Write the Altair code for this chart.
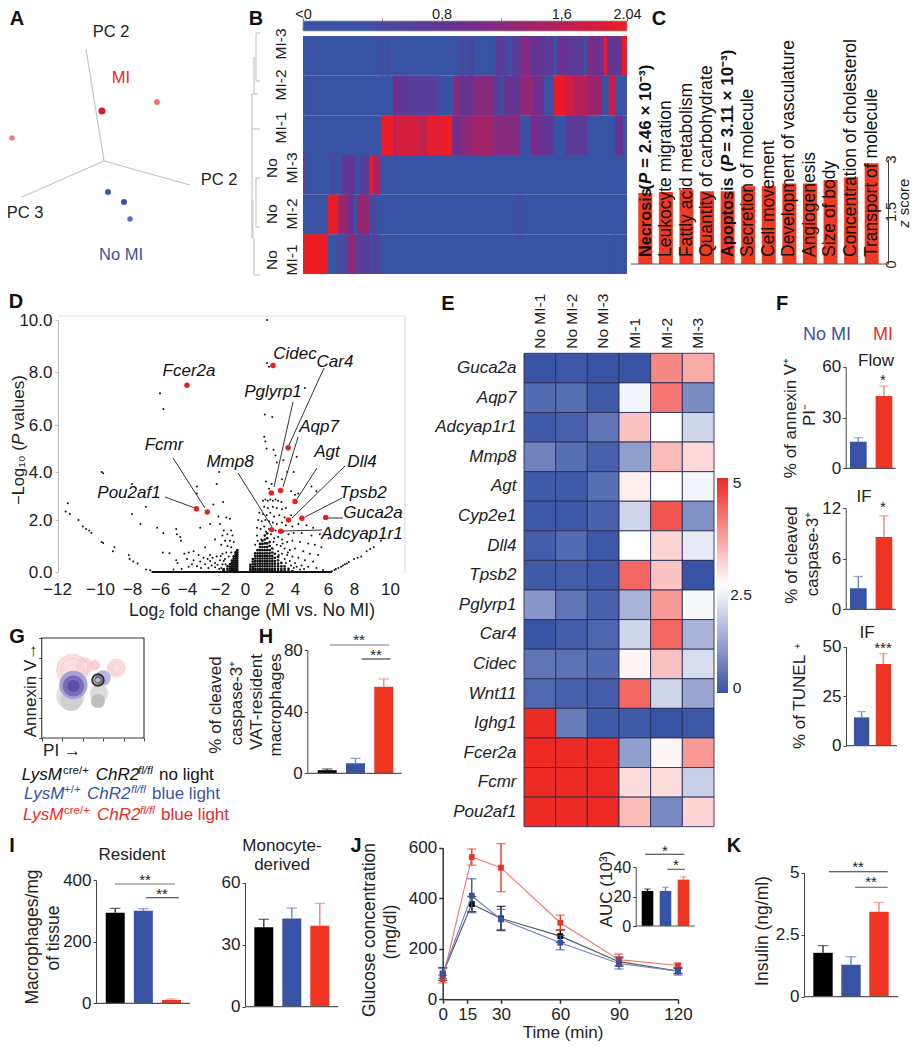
import altair as alt

W, H = 903, 1034
FONT = "Liberation Sans"
BLUE, RED, BLACK = "#3953a4", "#ee3524", "#000000"
LBLUE, LRED, LBLACK = "#6f84c6", "#f0837a", "#333333"
INK = "#222222"
layers = []
one = [{"a": 1}]

# ---------- helpers ----------
def text(s, x, y, size=17, color=INK, angle=0, align="center", style="normal", weight="normal"):
    layers.append(alt.Chart(alt.Data(values=one)).mark_text(
        text=s, font=FONT, fontSize=size, color=color, angle=angle, align=align, baseline="middle",
        fontStyle=style, fontWeight=weight).encode(x=alt.value(x - 8), y=alt.value(y - 8)))

def seg(x1, y1, x2, y2, color="#444444", w=1.0):
    layers.append(alt.Chart(alt.Data(values=one)).mark_rule(color=color, strokeWidth=w).encode(
        x=alt.value(x1 - 8), y=alt.value(y1 - 8), x2=alt.value(x2 - 8), y2=alt.value(y2 - 8)))

def yaxis(ax, vals, size=17, fmt=None, color="#444444", pad=2, tick=3, w=1.0):
    kw = dict(format=fmt) if fmt else {}
    return alt.Axis(orient="left", offset=-(ax - 8), values=vals, title=None, grid=False, labelFontSize=size,
                    labelFont=FONT, labelColor=INK, tickSize=tick, tickColor=color, domainColor=color,
                    labelPadding=pad, labelOverlap=False, labelFlush=False, labelBound=False,
                    domainWidth=w, tickWidth=w, **kw)

def xaxis(yb, vals, size=17, fmt=None, color="#444444", pad=2, tick=3, w=1.0, ticks=True, domain=True):
    kw = dict(format=fmt) if fmt else {}
    return alt.Axis(orient="bottom", offset=-(H - (yb - 8)), values=vals, title=None, grid=False, labelFontSize=size,
                    labelFont=FONT, labelColor=INK, tickSize=tick, tickColor=color, domainColor=color,
                    labelPadding=pad, labelOverlap=False, labelFlush=False, labelBound=False, labelAngle=0,
                    domainWidth=w, tickWidth=w, ticks=ticks, domain=domain, **kw)

def bars(ax, y0, ytop, ymax, ticks, first, last, bw, step, vals, tops, cols, ecols, xend, size=17, cap=None, tickfmt=None):
    n = len(vals)
    names = [f"g{i}" for i in range(n)]
    rows = [dict(g=names[i], v=vals[i], e=tops[i], c=cols[i], ec=ecols[i]) for i in range(n)]
    sx = alt.Scale(domain=names, range=[first - 8, last - 8], paddingInner=(step - bw) / step, paddingOuter=0)
    sy = alt.Scale(domain=[0, ymax], range=[y0 - 8, ytop - 8], nice=False)
    d = alt.Data(values=rows)
    X = alt.X("g:N", scale=sx, axis=None, sort=names)
    layers.append(alt.Chart(d).mark_rule(strokeWidth=1.4).encode(
        x=X, y=alt.Y("v:Q", scale=sy, axis=None), y2="e:Q", color=alt.Color("ec:N", scale=None)))
    layers.append(alt.Chart(d).mark_tick(orient="horizontal", size=cap or bw * 0.55, thickness=1.3).encode(
        x=X, y=alt.Y("e:Q", scale=sy, axis=None), color=alt.Color("ec:N", scale=None)))
    layers.append(alt.Chart(d).mark_bar(size=bw).encode(
        x=X, y=alt.Y("v:Q", scale=sy, axis=yaxis(ax, ticks, size=size, fmt=tickfmt)),
        color=alt.Color("c:N", scale=None)))
    seg(ax, y0, xend, y0, "#555555", 1.2)

TRIO, TRIO_ERR = [BLACK, BLUE, RED], [LBLACK, LBLUE, LRED]
PAIR, PAIR_ERR = [BLUE, RED], [LBLUE, LRED]

# ---------- panel letters ----------
for s, x, y in [("A", 17, 19), ("B", 256, 19), ("C", 659, 19), ("D", 16, 302), ("E", 448, 304), ("F", 782, 304),
                ("G", 17, 637), ("H", 266, 637), ("I", 12, 846), ("J", 356, 846), ("K", 734, 846)]:
    text(s, x, y, size=20, color="#111111", weight="bold")

# ---------- A: PCA ----------
PCA_X = [102, 157, 12, 108, 124, 130]
PCA_Y = [111, 102, 138, 192, 202, 219]
PCA_C = ["#cc1f26", "#ee6f73", "#ee7f84", "#3f5cae", "#3553a6", "#5570bd"]
PCA_S = [50, 34, 30, 36, 36, 30]
for p, q in [((104, 161), (86, 49)), ((104, 161), (190, 185)), ((104, 161), (22, 197))]:
    seg(p[0], p[1], q[0], q[1], "#c4c4c4", 1.2)
layers.append(alt.Chart(alt.Data(values=[dict(x=a, y=b, c=c, s=s) for a, b, c, s in zip(PCA_X, PCA_Y, PCA_C, PCA_S)])).mark_circle(opacity=1).encode(
    x=alt.X("x:Q", scale=alt.Scale(domain=[0, 300], range=[-8, 292]), axis=None),
    y=alt.Y("y:Q", scale=alt.Scale(domain=[0, 300], range=[-8, 292]), axis=None),
    color=alt.Color("c:N", scale=None), size=alt.Size("s:Q", scale=None)))
text("PC 2", 111, 32, 16.5); text("MI", 121, 78, 16.5, "#e8282a"); text("PC 2", 219, 180, 16.5)
text("PC 3", 25, 213, 16.5); text("No MI", 121, 255, 16.5, BLUE)

# ---------- B: expression heat map ----------
HB_ROWS = ["MI-3", "MI-2", "MI-1", "No MI-3", "No MI-2", "No MI-1"]
HB_MI3 = [(420, 428, .15), (440, 450, .25), (660, 672, .35), (685, 700, .4), (765, 790, .6), (790, 805, .4), (815, 840, .5), (840, 870, 1.1),
          (870, 905, .8), (905, 940, .6), (950, 985, .9), (985, 1030, .6), (1040, 1062, 1.1), (1062, 1090, .9), (1090, 1100, 1.9), (1100, 1145, .75), (1145, 1160, 2.0)]
HB_MI2 = [(200, 208, .2), (458, 470, 1.0), (470, 500, .7), (500, 590, .5), (590, 600, .3), (640, 660, 1.15), (660, 700, .8), (700, 760, 1.1), (760, 780, .5),
          (790, 840, .75), (840, 880, 1.2), (880, 910, .95), (940, 975, 2.0), (975, 1000, 1.75), (1000, 1040, 1.5), (1040, 1085, 1.3), (1105, 1125, 1.7)]
HB_MI1 = [(422, 460, 2.0), (460, 470, 1.6), (470, 540, 1.8), (540, 560, 1.65), (560, 600, 1.95), (600, 636, 2.04), (636, 660, .95), (660, 690, 1.15), (690, 760, 1.35),
          (760, 840, 1.1), (870, 905, .95), (905, 940, .7), (975, 1040, .6), (1125, 1148, .8)]
HB_N3 = [(188, 192, 1.5), (272, 285, .4), (305, 345, .7), (360, 385, .6), (388, 398, 2.0), (400, 420, 1.4)]
HB_N2 = [(263, 295, 2.0), (295, 320, 1.3), (320, 340, .85), (350, 388, 1.25), (392, 408, .3), (825, 850, .12)]
HB_N1 = [(188, 262, 2.04), (292, 320, .2), (322, 348, 1.2), (350, 390, .55), (395, 420, .35), (1120, 1130, .08)]
hb = []
for rn, segs in zip(HB_ROWS, [HB_MI3, HB_MI2, HB_MI1, HB_N3, HB_N2, HB_N1]):
    hb.append(dict(r=rn, a=188, b=1160, v=0))
    hb += [dict(r=rn, a=a, b=b, v=v) for a, b, v in segs]
HB_COLORS = ["#3953a4", "#6d2f90", "#b41f5c", "#ed1c24"]
layers.append(alt.Chart(alt.Data(values=hb)).mark_rect(stroke=None).encode(
    x=alt.X("a:Q", scale=alt.Scale(domain=[188, 1160], range=[303 - 8, 627 - 8], nice=False, zero=False), axis=None), x2="b:Q",
    y=alt.Y("r:N", scale=alt.Scale(domain=HB_ROWS, range=[36 - 8, 274 - 8], paddingInner=0, paddingOuter=0), axis=None, sort=HB_ROWS),
    color=alt.Color("v:Q", scale=alt.Scale(domain=[0, .9, 1.5, 2.04], range=HB_COLORS, interpolate="rgb"), legend=None)))
# colour bar
layers.append(alt.Chart(alt.Data(values=one)).mark_rect(
    color={"gradient": "linear", "x1": 0, "x2": 1, "y1": 0, "y2": 0,
           "stops": [{"offset": 0, "color": HB_COLORS[0]}, {"offset": .15, "color": HB_COLORS[0]}, {"offset": .5, "color": HB_COLORS[1]}, {"offset": .78, "color": HB_COLORS[2]}, {"offset": 1, "color": HB_COLORS[3]}]},
    stroke="#999999", strokeWidth=.8).encode(x=alt.value(295), x2=alt.value(619), y=alt.value(13), y2=alt.value(23)))
CB_TICKS = [-0.127, 0.4, 0.8, 1.2, 1.6, 2.04]
layers.append(alt.Chart(alt.Data(values=[dict(v=t) for t in CB_TICKS])).mark_point(opacity=0).encode(
    x=alt.X("v:Q", scale=alt.Scale(domain=[-0.127, 2.04], range=[295, 619], nice=False, zero=False),
            axis=alt.Axis(orient="top", offset=-13, values=CB_TICKS, title=None, grid=False, domain=False, tickSize=3, tickColor="#777777",
                          labelFont=FONT, labelFontSize=14.5, labelColor=INK, labelPadding=-3, labelOverlap=False, labelFlush=False, labelBound=False,
                          labelAngle=0, labelExpr="datum.value<0?'<0':datum.value==0.8?'0.8':datum.value==1.6?'1.6':datum.value>2?'2.04':''"))))
for s, x, y in [("MI-3", 281, 44), ("MI-2", 281, 85), ("MI-1", 281, 128), ("No", 272, 168), ("MI-3", 292, 168), ("No", 272, 214), ("MI-2", 292, 214), ("No", 272, 260), ("MI-1", 292, 260)]:
    text(s, x, y, 15.5, angle=270)
DENDRO = [((256, 33), (260, 33)), ((256, 33), (256, 81)), ((256, 81), (260, 81)), ((254, 57), (254, 94)), ((252, 94), (252, 165)), ((252, 94), (258, 94)),
          ((252, 129), (260, 129)), ((256, 178), (256, 227)), ((256, 178), (260, 178)), ((256, 227), (260, 227)), ((253, 200), (253, 238)), ((254, 238), (254, 275)),
          ((254, 275), (260, 275)), ((252, 165), (252, 238))]
for p, q in DENDRO:
    seg(p[0], p[1], q[0], q[1], "#c6c6c6", 1.2)

# ---------- C: z score bars ----------
C_TERMS = ["Necrosis", "Leukocyte migration", "Fattly acid metabolism", "Quantity of carbohydrate", "Apoptosis", "Secretion of molecule",
           "Cell movement", "Development of vasculature", "Angiogenesis", "Size of body", "Concentration of cholesterol", "Transport of molecule"]
C_Z = [2.03, 2.06, 2.12, 2.08, 2.08, 2.22, 2.22, 2.3, 2.3, 2.4, 2.48, 2.88]
csx = alt.Scale(domain=C_TERMS, range=[638.3 - 8, 878.7 - 8], paddingInner=.32, paddingOuter=0)
csy = alt.Scale(domain=[0, 3], range=[264 - 8, 159 - 8], nice=False)
layers.append(alt.Chart(alt.Data(values=[dict(t=a, z=b) for a, b in zip(C_TERMS, C_Z)])).mark_bar(color="#ef3b24").encode(
    x=alt.X("t:N", scale=csx, axis=None, sort=C_TERMS),
    y=alt.Y("z:Q", scale=csy, axis=alt.Axis(orient="right", offset=-(W - (888 - 8)), values=[0, 1.5, 3], format=".1~f", title=None, grid=False, labelAngle=270, labelAlign="center",
                                             labelBaseline="middle", labelFont=FONT, labelFontSize=14.5, labelColor=INK, labelPadding=3, tickSize=0, domainColor="#444444",
                                             labelOverlap=False, labelBound=False, labelFlush=False))))
seg(631, 264, 888, 264, "#555555", 1.2)
for i, t in enumerate(C_TERMS):
    cx = 645.5 + i * 20.55
    bold = t in ("Necrosis", "Apoptosis")
    text(t, cx, 257, 16.3 if bold else 17.5, "#111111", angle=270, align="left", weight="bold" if bold else "normal")
text("(", 645.5, 190, 17, "#111111", angle=270, align="left", weight="bold")
text("P", 645.5, 184, 17, "#111111", angle=270, align="left", weight="bold", style="italic")
text("= 2.46 × 10⁻³)", 645.5, 168, 17, "#111111", angle=270, align="left", weight="bold")
text("(", 728, 172, 17, "#111111", angle=270, align="left", weight="bold")
text("P", 728, 166, 17, "#111111", angle=270, align="left", weight="bold", style="italic")
text("= 3.11 × 10⁻³)", 728, 152, 17, "#111111", angle=270, align="left", weight="bold")
text("z", 904, 224, 15, angle=270, style="italic"); text("score", 904, 197, 15, angle=270)

# ---------- D: volcano ----------
VX_T = [-12, -10, -8, -6, -4, -2, 0, 2, 4, 6, 8, 10]
VX_P = [57, 100, 132, 160, 187, 220, 245, 269, 295, 328, 354, 390]
VY_T = [0, 2, 4, 6, 8, 10]
VY_P = [572, 520, 472, 425, 372, 320]
vsx = alt.Scale(domain=VX_T, range=[p - 8 for p in VX_P], nice=False, zero=False)
vsy = alt.Scale(domain=VY_T, range=[p - 8 for p in VY_P], nice=False, zero=False)
VOLC_UPPER = [(1.84, 10), (1.84, 8.35), (2.0, 8.2), (4.6, 7.4), (-6, 7.2), (-5.75, 6.6), (1.65, 6.4), (2.25, 6.3), (1.6, 5.5), (1.7, 5.3), (1.8, 5), (2.35, 4.95),
              (2.5, 4.7), (4.1, 4.65), (2.6, 4.4), (3.9, 4), (-9.9, 4), (-9.8, 3.95), (-2.05, 4), (-8, 3.5), (-2.2, 3.5), (-3.4, 3.4), (-3.4, 3.1), (1.75, 3.6),
              (2.0, 3.3), (2.2, 3.5), (3.0, 3.7), (3.4, 4.0), (3.1, 4.5), (5.0, 3.4), (5.3, 3.2), (4.2, 3.1), (4.0, 3.05), (3.7, 3.2)]
VOLC_LEFT_ARM = [(-11.5, 2.7), (-11.6, 2.35), (-11.4, 2.25), (-11.0, 2.0), (-10.8, 1.75), (-10.65, 1.65), (-10.5, 1.6), (-10.4, 1.5), (-9.9, 1.15), (-9.8, 1.12),
                 (-9.1, .95), (-9.2, .8), (-8.2, .65), (-8.15, .5), (-7.9, .4), (-7.6, .33), (-7, .1), (-6.7, .07)]
VOLC_RIGHT_ARM = [(6.3, .03), (6.5, .08), (6.6, .12), (6.8, .15), (7.0, .2), (7.15, .25), (7.3, .3), (7.45, .33), (7.6, .38), (8, .5), (8.2, .55), (8.4, .6), (8.7, .8), (8.9, .88), (9.1, .95), (9.5, 1.2)]
VOLC_LEFT_MID = [(-8, 2.25), (-7, 2.55), (-7.4, 1.85), (-6.2, 1.7), (-5.75, 1.5), (-4.8, 1.65), (-4.75, 1.45), (-4.5, 1.35), (-4.45, 1.2), (-1.75, 2.75), (-2.4, 2.65),
                 (-2.1, 2.15), (-1.5, 2.1), (-1.2, 2.05), (-2.6, 1.85), (-2.0, 1.85), (-1.7, 1.6), (-1.1, 1.6), (-3.2, 1.7), (-1.8, 1.4), (-1.4, 1.45), (-1.0, 1.4), (-2.3, 1.25),
                 (-1.6, 1.2), (-1.2, 1.2), (-0.9, 1.15), (-1.9, 1.05), (-1.4, 1.0), (-1.1, .95), (-2.9, .95), (-3.6, .8), (-3.9, .75), (-5.8, .75), (-5.3, .72), (-4.2, .7),
                 (-3.3, .65), (-2.6, .65), (-2.2, .6), (-1.8, .7), (-1.5, .75), (-4.8, .45), (-4.7, .35), (-4.0, .5), (-3.6, .45), (-3.2, .4), (-2.9, .3), (-2.6, .42), (-2.3, .35),
                 (-2.0, .45), (-1.8, .3), (-3.9, .2), (-3.4, .22), (-2.7, .15), (-2.3, .18), (-1.9, .15), (-4.4, .12), (-5.0, .1), (-1.6, .5), (-1.3, .6), (-1.1, .75),
                 (-3.0, .55), (-2.75, .5), (-2.45, .55), (-2.15, .28), (-1.95, .62), (-1.7, .42), (-1.55, .3), (-3.7, .3), (-3.15, .15), (-2.5, .25), (-2.05, .12), (-1.75, .1)]
VOLC_RIGHT_MID = [(1.5, 2.8), (1.7, 2.85), (1.9, 2.8), (2.1, 2.85), (2.3, 2.8), (2.5, 2.85), (2.7, 2.8), (2.95, 2.75), (1.6, 2.55), (1.9, 2.5), (2.3, 2.55), (2.6, 2.5), (3.0, 2.45),
                  (3.3, 2.5), (1.2, 2.3), (1.5, 2.25), (1.8, 2.2), (2.1, 2.3), (2.4, 2.15), (2.8, 2.2), (3.2, 2.1), (3.7, 2.2), (1.1, 2.0), (1.4, 1.95), (1.7, 2.0), (2.0, 1.95),
                  (2.3, 1.9), (2.6, 1.85), (3.0, 1.9), (3.3, 1.8), (3.8, 1.75), (4.2, 1.85), (4.7, 1.8), (5.1, 1.7), (1.0, 1.7), (1.3, 1.65), (1.6, 1.75), (2.0, 1.65), (2.5, 1.6),
                  (3.1, 1.55), (3.5, 1.45), (3.9, 1.5), (4.4, 1.5), (5.0, 1.4), (5.5, 1.45), (6.05, 1.3), (1.0, 1.4), (2.4, 1.3), (2.7, 1.35), (3.0, 1.25), (3.4, 1.15), (3.8, 1.2),
                  (4.3, 1.15), (4.8, 1.1), (5.2, 1.05), (5.6, .95), (2.6, 1.05), (2.9, 1.0), (3.2, .9), (3.6, .85), (4.0, .9), (4.5, .8), (4.9, .7), (5.4, .65), (2.7, .8), (3.0, .7),
                  (3.4, .65), (3.8, .6), (4.2, .55), (4.6, .45), (5.1, .4), (3.2, .5), (3.6, .42), (4.0, .35), (4.4, .25), (4.8, .2), (5.3, .15), (3.9, .15), (4.3, .1), (5.7, .08),
                  (1.35, 1.25), (1.75, 1.55), (2.15, 1.45), (2.35, 1.15), (0.85, 1.05), (1.05, 1.2), (3.3, .35), (3.7, .25), (4.1, .2), (4.55, .12), (3.45, .75), (3.05, 1.1), (2.75, .65)]
VOLC_CORE = {0.45: [.04, .12, .2, .28], 0.65: [.04, .12, .2, .3, .4, .5], 0.85: [.04, .12, .22, .32, .42, .52, .62, .72], 1.05: [.04, .12, .22, .32, .42, .52, .62, .72, .84],
             1.25: [.04, .12, .22, .32, .42, .52, .62, .72, .84, .96, 1.08], 1.45: [.04, .12, .22, .32, .42, .52, .62, .72, .84, .96, 1.08, 1.2],
             1.65: [.04, .12, .22, .32, .42, .52, .62, .72, .84, .96, 1.1, 1.25, 1.4], 1.85: [.04, .12, .22, .32, .42, .52, .62, .72, .84, .96, 1.1, 1.3, 1.48],
             2.05: [.04, .12, .22, .32, .42, .52, .62, .72, .84, 1.0, 1.15], 2.25: [.04, .12, .22, .32, .42, .52, .62, .75, .9], 2.45: [.04, .12, .22, .32, .42, .55, .7],
             2.7: [.04, .12, .22, .32, .45, .58], 2.95: [.04, .12, .22, .35], 3.2: [.04, .12, .22], 3.5: [.04, .12], 3.8: [.04],
             -0.62: [.04, .12, .2, .28, .36, .44, .52, .6, .68, .76, .84], -0.75: [.04, .12, .2, .28, .36, .44, .52, .6, .68, .76], -0.9: [.04, .12, .2, .28, .36, .44, .52, .6],
             -1.05: [.04, .12, .2, .28, .36, .44], -1.2: [.04, .12, .2, .3], -1.4: [.04, .12, .22], -1.7: [.04, .1]}
VOLC_HITS = ["Cidec", "Fcer2a", "Car4", "Pglyrp1", "Aqp7", "Agt", "Dll4", "Tpsb2", "Guca2a", "Mmp8", "Adcyap1r1", "Pou2af1", "Fcmr"]
VOLC_HX = [2.31, -4.0, 3.47, 2.18, 2.9, 4.0, 3.5, 4.42, 5.86, 2.2, 2.9, -3.43, -2.77]
VOLC_HY = [8.25, 7.5, 5.03, 3.13, 3.23, 2.77, 2.0, 2.07, 2.1, 1.63, 1.57, 2.47, 2.33]
seg(58, 316, 405, 316, "#dddddd", 1.2); seg(405, 316, 405, 573, "#dddddd", 1.2)
dots = VOLC_UPPER + VOLC_LEFT_ARM + VOLC_RIGHT_ARM + VOLC_LEFT_MID + VOLC_RIGHT_MID
layers.append(alt.Chart(alt.Data(values=[dict(x=-6.6, y=0, x2=6.3)])).mark_rule(color="#111111", strokeWidth=2).encode(
    x=alt.X("x:Q", scale=vsx, axis=xaxis(573, VX_T, pad=8, ticks=False, domain=False, fmt="d")), x2="x2:Q",
    y=alt.Y("y:Q", scale=vsy, axis=yaxis(58, VY_T, fmt=".1f", color="#bbbbbb", pad=3))))
layers.append(alt.Chart(alt.Data(values=[dict(x=a, y=b) for a, b in dots])).mark_circle(size=4, color="#111111", opacity=1).encode(
    x=alt.X("x:Q", scale=vsx, axis=None), y=alt.Y("y:Q", scale=vsy, axis=None)))
layers.append(alt.Chart(alt.Data(values=[dict(x=a, y=b) for a, ys in VOLC_CORE.items() for b in ys])).mark_circle(size=7, color="#111111", opacity=1).encode(
    x=alt.X("x:Q", scale=vsx, axis=None), y=alt.Y("y:Q", scale=vsy, axis=None)))
LEADERS = [(324, 368, 289, 445), (293, 402, 274, 487), (298, 437, 283, 487), (317, 468, 297, 499), (345, 466, 292, 518), (342, 498, 305, 517),
           (343, 518, 328, 518), (322, 530, 283, 531), (238, 473, 272, 527), (173, 458, 205, 508), (165, 497, 195, 508)]
for a, b, c, d in LEADERS:
    seg(a, b, c, d, "#333333", 1)
layers.append(alt.Chart(alt.Data(values=[dict(x=a, y=b) for a, b in zip(VOLC_HX, VOLC_HY)])).mark_circle(size=30, color="#e8201c", opacity=1).encode(
    x=alt.X("x:Q", scale=vsx, axis=None), y=alt.Y("y:Q", scale=vsy, axis=None)))
for s, x, y in [("Cidec", 295, 354), ("Car4", 335, 362), ("Fcer2a", 189, 371), ("Pglyrp1", 273, 392), ("Aqp7", 319, 427), ("Agt", 327, 452), ("Dll4", 362, 462),
                ("Tpsb2", 363, 493), ("Guca2a", 373, 513), ("Adcyap1r1", 362, 534), ("Mmp8", 230, 462), ("Fcmr", 164, 445), ("Pou2af1", 129, 493)]:
    text(s, x, y, 17, "#111111", style="italic")
text("−Log₁₀ (", 19, 505, 16.5, angle=270, align="left")
text("P", 19, 445, 17, angle=270, align="left", style="italic")
text("values)", 19, 430, 17, angle=270, align="left")
text("Log₂ fold change (MI vs. No MI)", 252, 611, 17.5)

# ---------- E: gene heat map ----------
E_SAMPLES = ["No MI-1", "No MI-2", "No MI-3", "MI-1", "MI-2", "MI-3"]
E_GENES = ["Guca2a", "Aqp7", "Adcyap1r1", "Mmp8", "Agt", "Cyp2e1", "Dll4", "Tpsb2", "Pglyrp1", "Car4", "Cidec", "Wnt11", "Ighg1", "Fcer2a", "Fcmr", "Pou2af1"]
E_VALUES = [[0, .05, 0, 0, 3.9, 3.5], [.35, .4, .1, 2.35, 4.1, .85], [.1, .2, .5, 3.2, 2.5, 1.9], [.7, .4, .2, 1.1, 3.3, 2.95],
            [.1, .1, .4, 2.7, 2.5, 2.35], [.05, .05, .2, 1.9, 4.5, .9], [.15, .35, .05, 2.5, 3.0, 2.2], [.1, .15, .05, 4.3, 3.2, 0],
            [1, .5, .2, 1.4, 3.7, 2.4], [0, .15, .25, 1.9, 4.3, 1.4], [.5, .45, .35, 2.6, 3.2, 2.0], [.3, .2, .15, 4.3, 1.9, 1.2],
            [5, .6, .1, .1, 0, .05], [5, 5, 5, 1.1, 2.6, 3.7], [5, 5, 5, 2.9, 2.9, 1.8], [5, 5, 5, 3.3, .8, 3.0]]
E_COLORS = ["#3953a4", "#ffffff", "#ee2a24"]
ecells = [dict(g=g, s=s, v=E_VALUES[i][j]) for i, g in enumerate(E_GENES) for j, s in enumerate(E_SAMPLES)]
layers.append(alt.Chart(alt.Data(values=ecells)).mark_rect(stroke="#2a2f58", strokeWidth=.9).encode(
    x=alt.X("s:N", sort=E_SAMPLES, scale=alt.Scale(domain=E_SAMPLES, range=[524 - 8, 714 - 8], paddingInner=0, paddingOuter=0),
            axis=alt.Axis(orient="top", offset=-(353.3 - 8), title=None, ticks=False, domain=False, grid=False, labelAngle=270, labelAlign="left", labelBaseline="middle",
                          labelFont=FONT, labelFontSize=15.5, labelColor=INK, labelPadding=5, labelOverlap=False, labelBound=False, labelFlush=False)),
    y=alt.Y("g:N", sort=E_GENES, scale=alt.Scale(domain=E_GENES, range=[353.3 - 8, 826.7 - 8], paddingInner=0, paddingOuter=0),
            axis=alt.Axis(orient="left", offset=-(524 - 8), title=None, ticks=False, domain=False, grid=False, labelFont=FONT, labelFontSize=17, labelFontStyle="italic",
                          labelColor=INK, labelPadding=8, labelOverlap=False, labelBound=False, labelFlush=False)),
    color=alt.Color("v:Q", scale=alt.Scale(domain=[0, 2.5, 5], range=E_COLORS, interpolate="rgb"), legend=None)))
layers.append(alt.Chart(alt.Data(values=one)).mark_rect(
    color={"gradient": "linear", "x1": 0, "x2": 0, "y1": 1, "y2": 0,
           "stops": [{"offset": 0, "color": E_COLORS[0]}, {"offset": .5, "color": E_COLORS[1]}, {"offset": 1, "color": E_COLORS[2]}]}).encode(
    x=alt.value(709), x2=alt.value(720), y=alt.value(470), y2=alt.value(685)))
text("5", 737, 483, 15.5); text("2.5", 741, 595, 15.5); text("0", 737, 688, 15.5)

# ---------- F: three small bar panels ----------
F1_V, F1_E = [15.7, 42.7], [18, 48.6]
F2_V, F2_E = [2.5, 8.6], [3.9, 11.1]
F3_V, F3_E = [14.3, 41.2], [17.2, 46.5]
bars(845.7, 468.3, 366.7, 60, [0, 30, 60], 850, 892.3, 16.7, 25.7, F1_V, F1_E, PAIR, PAIR_ERR, 895.7)
bars(845.7, 609.3, 508.3, 12, [0, 6, 12], 850, 892.3, 16.7, 25.7, F2_V, F2_E, PAIR, PAIR_ERR, 895.7)
bars(846, 745.7, 646.7, 50, [0, 25, 50], 854, 891, 15.3, 22, F3_V, F3_E, PAIR, PAIR_ERR, 897)
text("No MI", 827, 335, 18, BLUE); text("MI", 883, 335, 18, "#ee2a24")
text("Flow", 876, 361, 17); text("*", 883, 380, 15); text("IF", 864, 497, 17); text("*", 883, 507, 15)
text("IF", 867, 633, 17); text("***", 883, 648, 15)
text("% of annexin V⁺", 791, 418, 17, angle=270); text("PI⁻", 810, 415, 17, angle=270)
text("% of cleaved", 792, 555, 17, angle=270); text("caspase-3⁺", 813, 554, 17, angle=270)
text("% of TUNEL", 800, 702, 17, angle=270); text("+", 798, 646, 10, angle=270)

# ---------- G: flow contour ----------
gsx = alt.Scale(domain=[0, 100], range=[41.7 - 8, 144 - 8], nice=False)
gsy = alt.Scale(domain=[0, 100], range=[738 - 8, 638 - 8], nice=False)
G_GRAY_X, G_GRAY_Y, G_GRAY_S = [28, 29, 56, 55], [42, 38, 45, 37], [800, 480, 340, 200]
G_PINK_X, G_PINK_Y, G_PINK_S = [30, 42, 73, 52], [68, 72, 70, 73], [1000, 260, 320, 90]
G_BLUE_X, G_BLUE_Y, G_BLUE_S = [31, 31, 31, 60], [53, 52, 52, 60], [800, 450, 150, 240]
G_BLUE_C = ["#a29dd6", "#7468b8", "#5a4ea8", "#b4b1de"]
G_DARK_X, G_DARK_Y, G_DARK_S = [55, 55], [58, 58], [130, 40]
def gfill(xs, ys, ss, cs, op):
    layers.append(alt.Chart(alt.Data(values=[dict(x=a, y=b, s=c, c=d) for a, b, c, d in zip(xs, ys, ss, cs)])).mark_circle(opacity=op).encode(
        x=alt.X("x:Q", scale=gsx, axis=None), y=alt.Y("y:Q", scale=gsy, axis=None),
        size=alt.Size("s:Q", scale=None), color=alt.Color("c:N", scale=None)))
def gring(xs, ys, ss, col, w, fr=1.0):
    layers.append(alt.Chart(alt.Data(values=[dict(x=a, y=b, s=c * fr) for a, b, c in zip(xs, ys, ss)])).mark_point(filled=False, color=col, strokeWidth=w, opacity=.9).encode(
        x=alt.X("x:Q", scale=gsx, axis=None), y=alt.Y("y:Q", scale=gsy, axis=None), size=alt.Size("s:Q", scale=None)))
gfill(G_PINK_X, G_PINK_Y, G_PINK_S, ["#fbdcdd"] * 4, .95)
gring(G_PINK_X, G_PINK_Y, G_PINK_S, "#f8c0c3", .7)
gring(G_PINK_X, G_PINK_Y, G_PINK_S, "#f8c0c3", .7, .55)
gring(G_PINK_X[1:], G_PINK_Y[1:], G_PINK_S[1:], "#f8c0c3", .7, .25)
gfill(G_GRAY_X, G_GRAY_Y, G_GRAY_S, ["#dedede", "#cfcfcf", "#d8d8d8", "#bdbdbd"], .95)
gfill(G_BLUE_X, G_BLUE_Y, G_BLUE_S, G_BLUE_C, .95)
gring(G_DARK_X[:1], G_DARK_Y[:1], G_DARK_S[:1], "#222222", 2.2)
gring(G_DARK_X[1:], G_DARK_Y[1:], G_DARK_S[1:], "#444444", 1.2)
layers.append(alt.Chart(alt.Data(values=[dict(x=0, y=0)])).mark_rect(fill=None, stroke="#333333", strokeWidth=1.1).encode(
    x=alt.value(41.7 - 8), x2=alt.value(144 - 8), y=alt.value(638 - 8), y2=alt.value(738 - 8)))
G_TICKS = [0, 20, 40, 60, 80, 100]
layers.append(alt.Chart(alt.Data(values=[dict(x=0, y=0)])).mark_point(opacity=0).encode(
    x=alt.X("x:Q", scale=gsx, axis=alt.Axis(orient="bottom", offset=-(H - 730), values=G_TICKS, labels=False, title=None, grid=False, tickSize=3, tickColor="#444444", domain=False)),
    y=alt.Y("y:Q", scale=gsy, axis=alt.Axis(orient="left", offset=-33.7, values=G_TICKS, labels=False, title=None, grid=False, tickSize=3, tickColor="#444444", domain=False))))
text("Annexin V→", 31, 690, 17, angle=270); text("PI →", 62, 751, 17)
for y, col, pieces in [
    (775, "#111111", [("LysM", 21.7, 17, "italic"), ("cre/+", 63, 11.5, "normal"), ("ChR2", 95.7, 17, "italic"), ("fl/fl", 138, 11.5, "italic"), ("no light", 159, 17, "normal")]),
    (794, BLUE, [("LysM", 24, 17, "italic"), ("+/+", 64, 11.5, "normal"), ("ChR2", 87, 17, "italic"), ("fl/fl", 131, 11.5, "italic"), ("blue light", 152, 17, "normal")]),
    (815, "#ee2a24", [("LysM", 23, 17, "italic"), ("cre/+", 64, 11.5, "normal"), ("ChR2", 97, 17, "italic"), ("fl/fl", 140, 11.5, "italic"), ("blue light", 161, 17, "normal")])]:
    for s, x, sz, st in pieces:
        text(s, x, y - (4 if sz < 12 else 0), sz, col, align="left", style=st)

# ---------- H ----------
H_V, H_E = [2, 6.5, 56.2], [2.8, 9.7, 61.2]
bars(307.3, 773.3, 650, 80, [0, 40, 80], 317.7, 393.3, 19, 28.2, H_V, H_E, TRIO, TRIO_ERR, 401.7)
seg(330, 645, 389, 645, "#777777", 1.1); seg(361.7, 659, 390.7, 659, "#333333", 1.1)
text("**", 359, 640, 15); text("**", 376, 655, 15)
text("% of  cleaved", 216, 705, 17, angle=270); text("caspase-3⁺", 237, 703, 17, angle=270)
text("VAT-resident", 257, 702, 17, angle=270); text("macrophages", 276, 705, 17, angle=270)

# ---------- I ----------
IR_V, IR_E = [294, 300.5, 11], [308, 307, 14]
IM_V, IM_E = [38.5, 42.7, 39.2], [42.3, 47.7, 50]
bars(96, 1003.3, 880, 400, [0, 200, 400], 105.7, 181, 19, 28, IR_V, IR_E, TRIO, TRIO_ERR, 190)
bars(245, 1006.7, 882.7, 60, [0, 30, 60], 254.3, 329.3, 19, 28, IM_V, IM_E, TRIO, TRIO_ERR, 338.3)
seg(115, 884, 175, 884, "#777777", 1.1); seg(145.7, 897.7, 179, 897.7, "#333333", 1.1)
text("**", 145, 880, 15); text("**", 162, 894, 15)
text("Resident", 132, 855, 17); text("Monocyte-", 282, 846, 17); text("derived", 282, 865, 17)
text("Macrophages/mg", 33, 937, 17.5, angle=270); text("of tissue", 54, 938, 17.5, angle=270)

# ---------- J ----------
J_T = [0, 17, 30, 60, 90, 120]
J_RED, J_RED_E = [80, 563, 521, 303, 157, 134], [15, 32, 95, 30, 22, 8]
J_BLACK, J_BLACK_E = [100, 377, 320, 250, 149, 112], [25, 30, 48, 25, 18, 10]
J_BLUE, J_BLUE_E = [103, 410, 316, 224, 142, 111], [20, 67, 40, 28, 22, 15]
J_TICKS = [0, 15, 30, 60, 90, 120]
jsx = alt.Scale(domain=J_TICKS, range=[p - 8 for p in [442.7, 467.3, 501, 560.3, 619, 678]], nice=False, zero=False)
jsy = alt.Scale(domain=[0, 600], range=[999.3 - 8, 847.7 - 8], nice=False)
first = True
for vals, errs, c, lc in [(J_BLACK, J_BLACK_E, BLACK, "#555555"), (J_RED, J_RED_E, RED, "#f0776e"), (J_BLUE, J_BLUE_E, BLUE, "#6a82c8")]:
    d = alt.Data(values=[dict(t=t, v=v, lo=v - e, hi=v + e) for t, v, e in zip(J_T, vals, errs)])
    xn = alt.X("t:Q", scale=jsx, axis=None)
    yn = alt.Y("v:Q", scale=jsy, axis=None)
    layers.append(alt.Chart(d).mark_rule(color=c, strokeWidth=1.4).encode(x=xn, y=alt.Y("lo:Q", scale=jsy, axis=None), y2="hi:Q"))
    layers.append(alt.Chart(d).mark_tick(orient="horizontal", size=9, thickness=1.3, color=c).encode(x=xn, y=alt.Y("lo:Q", scale=jsy, axis=None)))
    layers.append(alt.Chart(d).mark_tick(orient="horizontal", size=9, thickness=1.3, color=c).encode(x=xn, y=alt.Y("hi:Q", scale=jsy, axis=None)))
    layers.append(alt.Chart(d).mark_line(color=lc, strokeWidth=1.1).encode(x=xn, y=yn))
    layers.append(alt.Chart(d).mark_square(size=34, color=c, opacity=1).encode(
        x=alt.X("t:Q", scale=jsx, axis=xaxis(999.3, J_TICKS, color="#333333", tick=4, pad=3, w=1.5) if first else None),
        y=alt.Y("v:Q", scale=jsy, axis=yaxis(442.7, [0, 200, 400, 600], color="#333333", tick=4, w=1.5) if first else None)))
    first = False
text("Time (min)", 563, 1033, 17)
text("Glucose concentration", 370, 930, 17.5, angle=270); text("(mg/dl)", 391, 932, 17.5, angle=270)

AUC_V, AUC_E = [23.9, 23.9, 31.6], [25.2, 26.4, 33.6]
bars(635.7, 926, 867.3, 40, [0, 20, 40], 641.7, 689.3, 11.6, 18, AUC_V, AUC_E, TRIO, TRIO_ERR, 695, size=16)
seg(645, 854.3, 684.3, 854.3, "#333333", 1.1); seg(667.3, 869.3, 685, 869.3, "#555555", 1.1)
text("*", 665, 851, 15); text("*", 676, 865, 15)
text("AUC (10³)", 607, 889, 17, angle=270)

# ---------- K ----------
K_V, K_E = [1.77, 1.29, 3.43], [2.06, 1.61, 3.8]
bars(804, 996.7, 872.7, 5, [0, 2.5, 5], 813.3, 888.7, 19.4, 28, K_V, K_E, TRIO, TRIO_ERR, 898.3, tickfmt=".1~f")
seg(829, 871.7, 887.7, 871.7, "#333333", 1.1); seg(855, 887.3, 887.7, 887.3, "#555555", 1.1)
text("**", 858, 867, 15); text("**", 871, 882, 15)
text("Insulin (ng/ml)", 763, 931, 17.5, angle=270)

chart = alt.layer(*layers).resolve_scale(x="independent", y="independent", color="independent", size="independent").properties(
    width=W, height=H, padding=0, autosize=alt.AutoSizeParams(type="none", contains="content"), background="#ffffff"
).configure_view(stroke=None)
chart.save("out.html", embed_options={"renderer": "svg", "actions": False})
